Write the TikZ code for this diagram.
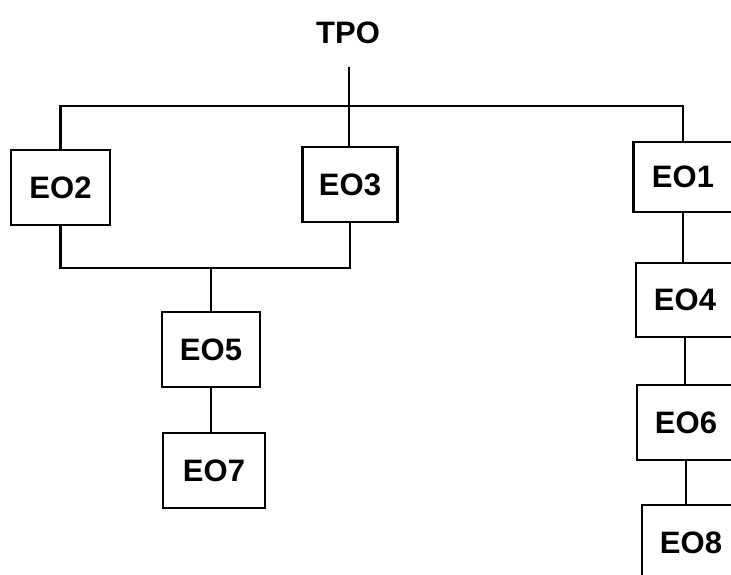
\documentclass[tikz,border=0pt]{standalone}
\usepackage{fontspec}
\setmainfont{Liberation Sans}
\begin{document}
\begin{tikzpicture}[x=1pt,y=1pt,
  lbl/.style={font=\fontsize{31}{33}\selectfont\bfseries},
  box/.style={draw, lbl, line width=2.6pt, minimum width=98pt, minimum height=75pt, inner sep=0pt},
  conn/.style={line width=2.6pt}]
\useasboundingbox (0,0) rectangle (731,-575);
\clip (0,0) rectangle (731,-575);
\node[lbl] (tpo) at (348,-33) {TPO};
\coordinate (tpoend) at (349,-67);
\node[box, minimum width=99pt] (eo2) at (60.5,-187.5) {EO2};
\node[box, minimum width=95pt] (eo3) at (350,-184.5) {EO3};
\node[box, minimum width=99pt, minimum height=70pt] (eo1) at (683,-177) {EO1};
\node[box, minimum width=98pt, minimum height=74pt] (eo4) at (685,-300) {EO4};
\node[box, minimum width=98pt] (eo6) at (686,-422.5) {EO6};
\node[box, minimum width=98pt, minimum height=76pt] (eo8) at (691,-543) {EO8};
\node[box] (eo5) at (211,-349.5) {EO5};
\node[box, minimum width=102pt] (eo7) at (214,-470.5) {EO7};
\coordinate (top) at (349,-106);
\coordinate (mid) at (210,-268);
\draw[conn] (tpoend) -- (tpoend |- eo3.north);
\draw[conn] (eo2.north) |- (top) -| (eo1.north);
\draw[conn] (eo2.south) |- (mid) -| (eo3.south);
\draw[conn] (eo5.north) -- (eo5.north |- mid);
\draw[conn] (eo5.south) -- (eo5.south |- eo7.north);
\draw[conn] (eo1.south) -- (eo1.south |- eo4.north);
\draw[conn] (eo4.south) -- (eo4.south |- eo6.north);
\draw[conn] (eo6.south) -- (eo6.south |- eo8.north);
\end{tikzpicture}
\end{document}
